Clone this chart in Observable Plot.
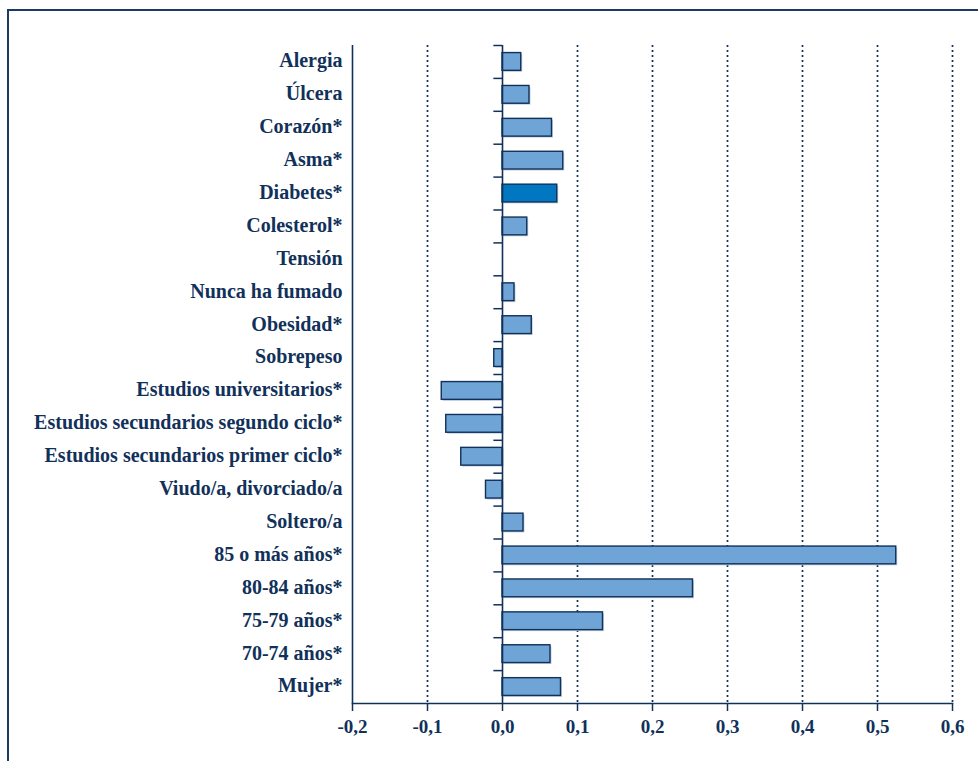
<!DOCTYPE html>
<html>
<head>
<meta charset="utf-8">
<script src="https://cdn.jsdelivr.net/npm/d3@7"></script>
<script src="https://cdn.jsdelivr.net/npm/@observablehq/plot@0.6"></script>
<style>
  html, body { margin: 0; padding: 0; background: #ffffff; overflow: hidden; }
  #wrap { position: relative; width: 978px; height: 761px; overflow: hidden; }
  #border { position: absolute; left: 7px; top: 9px; width: 1000px; height: 800px; border: 2px solid #1b3b63; }
  #chart { position: absolute; left: 0; top: 0; }
</style>
</head>
<body>
<div id="wrap"><div id="border"></div><div id="chart"></div></div>
<script>
const categories = [
  "Alergia", "Úlcera", "Corazón*", "Asma*", "Diabetes*", "Colesterol*", "Tensión",
  "Nunca ha fumado", "Obesidad*", "Sobrepeso", "Estudios universitarios*",
  "Estudios secundarios segundo ciclo*", "Estudios secundarios primer ciclo*",
  "Viudo/a, divorciado/a", "Soltero/a", "85 o más años*", "80-84 años*",
  "75-79 años*", "70-74 años*", "Mujer*"
];
const values = [
  0.025, 0.036, 0.066, 0.081, 0.073, 0.033, 0.0,
  0.016, 0.039, -0.011, -0.081,
  -0.075, -0.055,
  -0.022, 0.028, 0.525, 0.254,
  0.134, 0.064, 0.078
];
const highlighted = ["Diabetes*"];
const xTicks = [-0.2, -0.1, 0.0, 0.1, 0.2, 0.3, 0.4, 0.5, 0.6];
const gridTicks = [-0.1, 0.1, 0.2, 0.3, 0.4, 0.5, 0.6];

const navy = "#11315a";
const barFill = "#6fa4d7";
const barDark = "#0077c0";
const shadow = "#c3d0e0";

const data = categories.map((c, i) => ({category: c, value: values[i]}));
const bars = data.filter(d => d.value !== 0);
const normal = bars.filter(d => !highlighted.includes(d.category));
const dark = bars.filter(d => highlighted.includes(d.category));

const W = 978, H = 761;
const mTop = 45, mBottom = 58, mLeft = 352, mRight = 26;
const step = (H - mTop - mBottom) / categories.length;
const fmt = d => d.toFixed(1).replace(".", ",");

const chart = Plot.plot({
  width: W,
  height: H,
  marginTop: mTop,
  marginBottom: mBottom,
  marginLeft: mLeft,
  marginRight: mRight,
  style: {fontFamily: "Liberation Serif, serif", color: navy, background: "transparent"},
  x: {domain: [-0.2, 0.6], label: null},
  y: {domain: categories, paddingInner: 0.46, paddingOuter: 0.23, round: false, label: null},
  marks: [
    Plot.ruleX(gridTicks, {stroke: navy, strokeWidth: 1.7, strokeDasharray: "2,3"}),
    Plot.barX(bars, {x: "value", y: "category", fill: shadow, dx: 1.5, dy: 1.5}),
    Plot.barX(normal, {x: "value", y: "category", fill: barFill, stroke: navy, strokeWidth: 1.4}),
    Plot.barX(dark, {x: "value", y: "category", fill: barDark, stroke: navy, strokeWidth: 1.4}),
    Plot.ruleY(categories, {y: d => d, x1: -0.0115, x2: 0, dy: -step / 2, stroke: navy, strokeWidth: 1.5}),
    Plot.ruleX([0], {stroke: navy, strokeWidth: 1.6}),
    Plot.ruleX([-0.2], {stroke: navy, strokeWidth: 1.6}),
    Plot.frame({anchor: "bottom", stroke: navy, strokeWidth: 1.6}),
    Plot.axisX({ticks: xTicks, tickFormat: fmt, tickSize: 8, tickPadding: 8, fontSize: 19, fontWeight: "bold", color: navy, strokeWidth: 1.5}),
    Plot.axisY({tickSize: 0, tickPadding: 10, dy: -1, fontSize: 20, fontWeight: "bold", color: navy})
  ]
});
const tickLabels = new Set(xTicks.map(fmt));
chart.querySelectorAll("text").forEach(t => {
  if (tickLabels.has(t.textContent.trim())) {
    t.style.fontSize = "19px";
    t.style.fontWeight = "bold";
  }
});
document.getElementById("chart").appendChild(chart);
</script>
</body>
</html>
